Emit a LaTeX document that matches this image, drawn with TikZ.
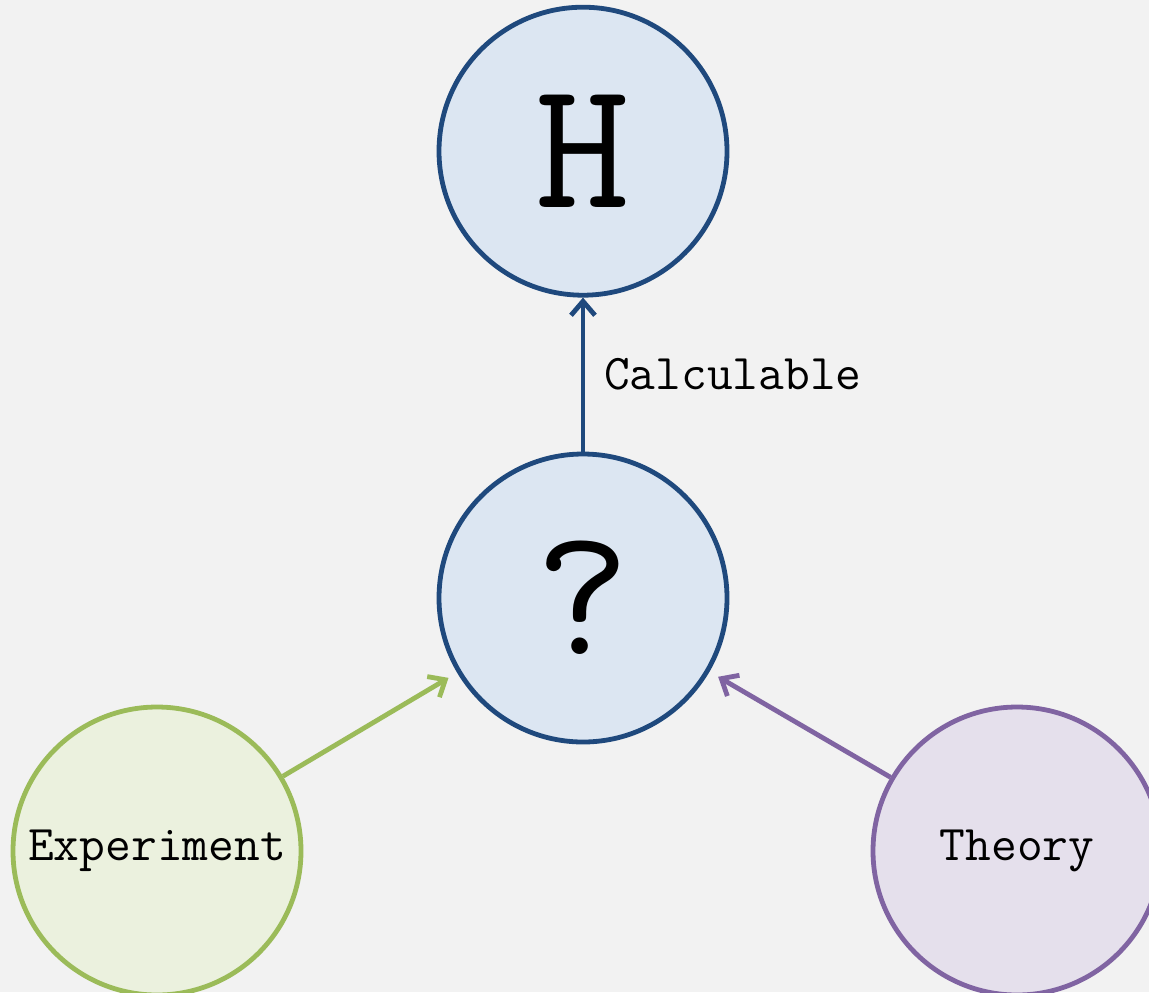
\documentclass[tikz,border=0pt]{standalone}
\usepackage{tikz}
\usepackage{xcolor}
\usetikzlibrary{arrows.meta, positioning}
\definecolor{hb}{HTML}{1F497D}
\definecolor{hbf}{HTML}{DCE6F2}
\definecolor{ex}{HTML}{9BBB59}
\definecolor{exf}{HTML}{EBF1DE}
\definecolor{th}{HTML}{8064A2}
\definecolor{thf}{HTML}{E5E0EC}
\definecolor{paper}{HTML}{F2F2F2}

\begin{document}
\begin{tikzpicture}[x=0.5pt, y=-0.5pt, line width=2.4pt,
    font=\ttfamily\fontsize{25}{29}\selectfont, >={Straight Barb[length=7pt, width=12pt]},
    ball/.style={circle, minimum size=144pt, inner sep=0pt, text=black},
    big/.style={font=\ttfamily\fontsize{92}{100}\selectfont},
    b/.style={ball, draw=hb, fill=hbf},
    e/.style={ball, draw=ex, fill=exf},
    t/.style={ball, draw=th, fill=thf}]

  % page and paper
  \clip (0,0) rectangle (1149,992);
  \fill[paper] (0,0) rectangle (1149,992);

  % the unknown and its target
  \node[b, big] (Q) at (583,598) {?};
  \node[b, big, above=77pt of Q] (H) {H};

  % the two inputs
  \node[e] (E) at (157,851) {Experiment};
  \node[t] (T) at (1017,851) {Theory};

  \draw[->, hb] (Q) -- node[right=6pt, text=black]{Calculable} (H);
  \draw[->, ex, shorten >=5pt] (E) -- (Q);
  \draw[->, th, shorten >=5pt] (T) -- (Q);
\end{tikzpicture}
\end{document}
